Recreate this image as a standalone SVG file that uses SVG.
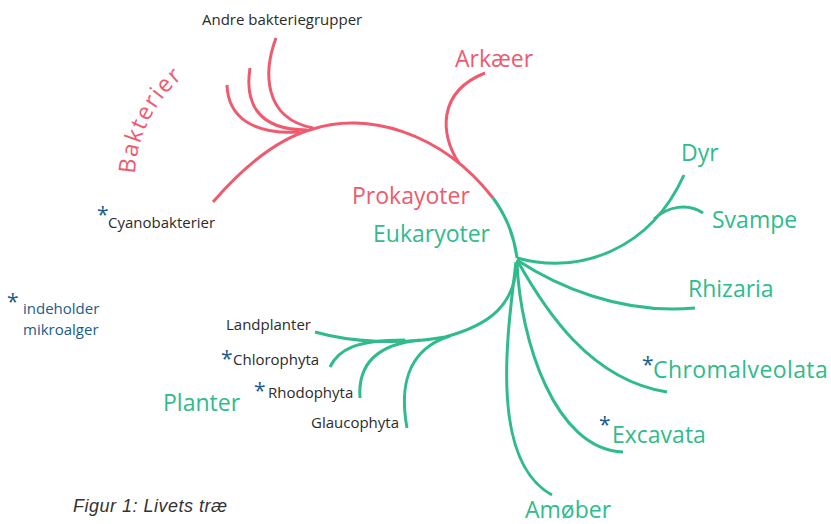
<svg xmlns="http://www.w3.org/2000/svg" width="831" height="524" viewBox="0 0 831 524">
<defs>
<style>
.red{fill:none;stroke:#EF5A6E;stroke-width:3;stroke-linecap:butt}
.grn{fill:none;stroke:#30BB8B;stroke-width:3;stroke-linecap:butt}
.big{font-family:"Open Sans","Liberation Sans",sans-serif;font-size:23px}
.sm{font-family:"Open Sans","Liberation Sans",sans-serif;font-size:15px;fill:#2b2b2b}
.r{fill:#EF5A6E}
.g{fill:#30BB8B}
.b{fill:#1B5C8A}
.ast{font-family:"Open Sans","Liberation Sans",sans-serif;font-size:21px;fill:#1B5C8A}
</style>
<path id="bakArc" d="M135,174 A135,135 0 0,1 213,58"/>
</defs>
<rect width="831" height="524" fill="#ffffff"/>
<g id="connectors">
<path class="red" d="M213,202 C245,165 280,138 313,129 C365,112 440,130 493,198"/>
<path class="red" d="M276,38 C264,70 262,118 313,128"/>
<path class="red" d="M250,68 C245,100 255,130 307,130"/>
<path class="red" d="M227,85 C228,115 250,135 300,132"/>
<path class="red" d="M459,163 C440,135 437,92 485,73"/>
<path class="grn" d="M493,198 C505,214 514,235 517,258"/>
<path class="grn" d="M517,258 C580,275 650,250 684,175"/>
<path class="grn" d="M654,219 C668,206 688,203 703,213"/>
<path class="grn" d="M517,260 C555,285 620,315 695,308"/>
<path class="grn" d="M517,260 C545,310 590,380 667,392"/>
<path class="grn" d="M517,262 C520,340 555,450 623,452"/>
<path class="grn" d="M516,262 C508,330 488,460 552,495"/>
<path class="grn" d="M517,262 C515,305 490,325 445,337 C400,345 350,342 315,332"/>
<path class="grn" d="M330,367 C338,350 355,340 405,340"/>
<path class="grn" d="M360,398 C358,370 370,345 420,340"/>
<path class="grn" d="M407,428 C400,390 405,350 450,336"/>
</g>
<g id="bakterier"><text class="big r" letter-spacing="1.5"><textPath href="#bakArc">Bakterier</textPath></text></g>
<g id="andre"><text class="sm" x="202" y="25">Andre bakteriegrupper</text></g>
<g id="cyano"><text class="ast" x="97" y="222">*</text><text class="sm" x="108" y="228">Cyanobakterier</text></g>
<g id="legend"><text class="ast" x="7" y="309">*</text><text class="sm b" x="23" y="314">indeholder</text><text class="sm b" x="23" y="335">mikroalger</text></g>
<g id="arkaeer"><text class="big r" x="455" y="67">Arkæer</text></g>
<g id="prokayoter"><text class="big r" x="352" y="204">Prokayoter</text></g>
<g id="eukaryoter"><text class="big g" x="373" y="242">Eukaryoter</text></g>
<g id="dyr"><text class="big g" x="681" y="161">Dyr</text></g>
<g id="svampe"><text class="big g" x="712" y="228">Svampe</text></g>
<g id="rhizaria"><text class="big g" x="688" y="297">Rhizaria</text></g>
<g id="chromalveolata"><text class="ast" x="642" y="372">*</text><text class="big g" x="653" y="378" letter-spacing="0.4">Chromalveolata</text></g>
<g id="excavata"><text class="ast" x="599" y="432">*</text><text class="big g" x="612" y="443">Excavata</text></g>
<g id="amoeber"><text class="big g" x="525" y="518">Amøber</text></g>
<g id="landplanter"><text class="sm" x="226" y="330">Landplanter</text></g>
<g id="chlorophyta"><text class="ast" x="221" y="366">*</text><text class="sm" x="233" y="365">Chlorophyta</text></g>
<g id="rhodophyta"><text class="ast" x="254" y="398">*</text><text class="sm" x="268" y="398">Rhodophyta</text></g>
<g id="glaucophyta"><text class="sm" x="311" y="428">Glaucophyta</text></g>
<g id="planter"><text class="big g" x="163" y="411">Planter</text></g>
<g id="caption"><text x="73" y="512" font-family="'Liberation Sans',Arial,sans-serif" font-size="18" font-style="italic" letter-spacing="0.5" fill="#333">Figur 1: Livets træ</text></g>
</svg>
